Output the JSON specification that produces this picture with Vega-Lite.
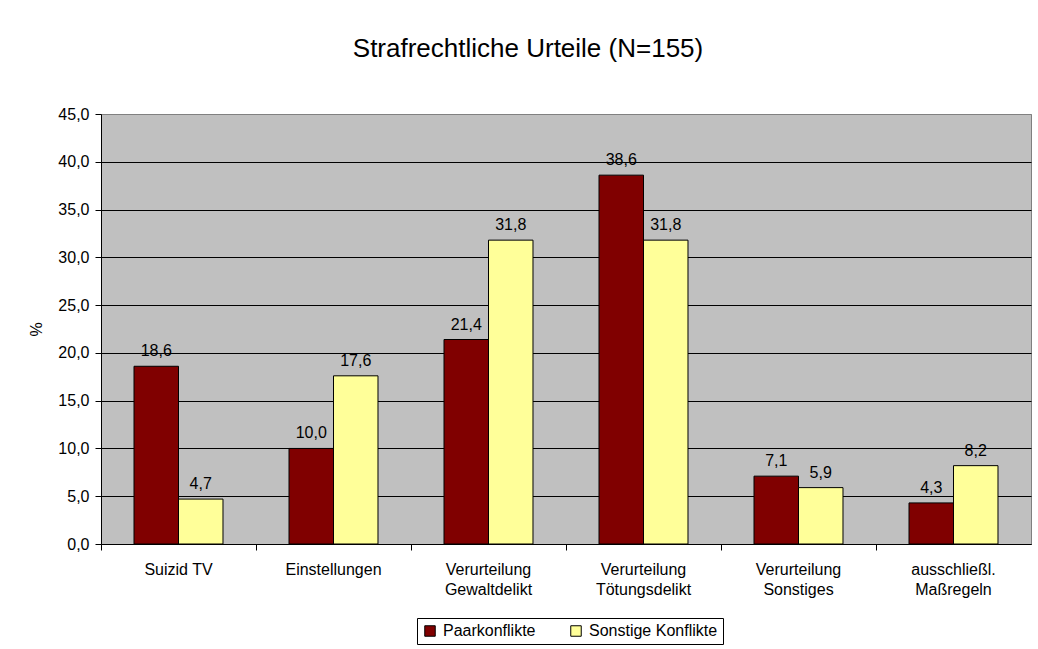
{
  "$schema": "https://vega.github.io/schema/vega-lite/v6.json",
  "width": 930,
  "height": 430,
  "autosize": {"type": "none"},
  "padding": {"left": 101, "top": 114, "right": 7, "bottom": 105},
  "background": "white",
  "title": {
    "text": "Strafrechtliche Urteile (N=155)",
    "fontSize": 26,
    "fontWeight": "normal",
    "color": "black",
    "anchor": "middle",
    "dx": -38,
    "offset": 23,
    "baseline": "alphabetic"
  },
  "data": {
    "values": [
      {"kategorie": "Suizid TV", "gruppe": "Paarkonflikte", "wert": 18.6},
      {"kategorie": "Suizid TV", "gruppe": "Sonstige Konflikte", "wert": 4.7},
      {"kategorie": "Einstellungen", "gruppe": "Paarkonflikte", "wert": 10.0},
      {"kategorie": "Einstellungen", "gruppe": "Sonstige Konflikte", "wert": 17.6},
      {"kategorie": "Verurteilung Gewaltdelikt", "gruppe": "Paarkonflikte", "wert": 21.4},
      {"kategorie": "Verurteilung Gewaltdelikt", "gruppe": "Sonstige Konflikte", "wert": 31.8},
      {"kategorie": "Verurteilung Tötungsdelikt", "gruppe": "Paarkonflikte", "wert": 38.6},
      {"kategorie": "Verurteilung Tötungsdelikt", "gruppe": "Sonstige Konflikte", "wert": 31.8},
      {"kategorie": "Verurteilung Sonstiges", "gruppe": "Paarkonflikte", "wert": 7.1},
      {"kategorie": "Verurteilung Sonstiges", "gruppe": "Sonstige Konflikte", "wert": 5.9},
      {"kategorie": "ausschließl. Maßregeln", "gruppe": "Paarkonflikte", "wert": 4.3},
      {"kategorie": "ausschließl. Maßregeln", "gruppe": "Sonstige Konflikte", "wert": 8.2}
    ]
  },
  "encoding": {
    "x": {
      "field": "kategorie",
      "type": "nominal",
      "sort": null,
      "scale": {"paddingInner": 0, "paddingOuter": 0},
      "axis": {
        "title": null,
        "bandPosition": 0,
        "labelAngle": 0,
        "labelExpr": "datum.value == 'Suizid TV' ? datum.value : split(datum.value, ' ')",
        "labelFontSize": 16,
        "labelColor": "black",
        "labelPadding": 11,
        "labelLineHeight": 20,
        "labelBaseline": "top",
        "tickSize": 6,
        "tickColor": "black",
        "domainColor": "black",
        "grid": false
      }
    },
    "xOffset": {
      "field": "gruppe",
      "type": "nominal",
      "sort": ["Paarkonflikte", "Sonstige Konflikte"],
      "scale": {"paddingOuter": 0.742, "paddingInner": 0}
    },
    "y": {
      "field": "wert",
      "type": "quantitative",
      "scale": {"domain": [0, 45], "nice": false},
      "axis": {
        "title": "%",
        "values": [0, 5, 10, 15, 20, 25, 30, 35, 40, 45],
        "format": ".1f",
        "grid": true,
        "gridColor": {"condition": {"test": "datum.value === 45", "value": "#808080"}, "value": "black"},
        "gridOpacity": 1,
        "domainColor": "black",
        "tickColor": "black",
        "tickSize": 6,
        "labelPadding": 6,
        "labelFontSize": 16,
        "labelColor": "black",
        "titleFontSize": 16,
        "titleFontWeight": "normal",
        "titleColor": "black",
        "titlePadding": 13,
        "titleAngle": -90
      }
    }
  },
  "layer": [
    {
      "mark": {"type": "bar", "stroke": "black", "strokeWidth": 1, "opacity": 1},
      "encoding": {
        "color": {
          "field": "gruppe",
          "type": "nominal",
          "scale": {"domain": ["Paarkonflikte", "Sonstige Konflikte"], "range": ["#800000", "#FFFF99"]},
          "legend": {
            "orient": "none",
            "legendX": 316,
            "legendY": 504,
            "direction": "horizontal",
            "title": null,
            "symbolType": "square",
            "symbolSize": 110,
            "symbolStrokeColor": "black",
            "symbolStrokeWidth": 1,
            "symbolOpacity": 1,
            "labelFontSize": 16,
            "labelColor": "black",
            "labelOffset": 5,
            "strokeColor": "black",
            "fillColor": "white",
            "padding": 5,
            "columnPadding": 32
          }
        }
      }
    },
    {
      "mark": {"type": "text", "baseline": "alphabetic", "dy": -10, "fontSize": 16, "color": "black"},
      "encoding": {
        "text": {"field": "wert", "type": "quantitative", "format": ".1f"}
      }
    }
  ],
  "config": {
    "font": "Liberation Sans",
    "view": {"fill": "#C0C0C0", "stroke": "#808080"},
    "locale": {
      "number": {"decimal": ",", "thousands": ".", "grouping": [3], "currency": ["", " €"]}
    }
  }
}
